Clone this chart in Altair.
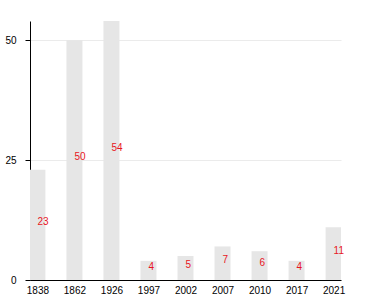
import altair as alt
import pandas as pd

years = ["1838", "1862", "1926", "1997", "2002", "2007", "2010", "2017", "2021"]
values = [23, 50, 54, 4, 5, 7, 6, 4, 11]

df = pd.DataFrame({"year": years, "value": values})
df["half"] = df["value"] / 2

FONT = "Liberation Sans"

x = alt.X("year:N", sort=years, title=None,
          scale=alt.Scale(type="point", padding=0.2),
          axis=alt.Axis(labelAngle=0, ticks=False, tickSize=0, labelPadding=5,
                        domainColor="black", labelColor="black", labelFontSize=10,
                        labelFont=FONT, grid=False))

base = alt.Chart(df)

bars = base.mark_bar(width=16, color="#e6e6e6", clip=True).encode(
    x=x,
    y=alt.Y("value:Q", title=None,
            scale=alt.Scale(domain=[0, 54], nice=False, zero=True),
            axis=alt.Axis(values=[0, 25, 50], tickSize=5, tickColor="black",
                          domainColor="black", labelColor="black", labelFontSize=10,
                          labelFont=FONT, labelPadding=9, gridColor="#ebebeb",
                          grid=True)),
)

labels = base.mark_text(align="left", baseline="alphabetic", color="#e8161e",
                        fontSize=10, font=FONT).encode(
    x=alt.X("year:N", sort=years),
    y=alt.Y("half:Q"),
    text=alt.Text("value:Q"),
)

chart = (bars + labels).properties(
    width=311, height=259,
    autosize=alt.AutoSizeParams(type="none"),
    padding={"left": 30, "top": 21, "right": 39, "bottom": 20},
).configure_view(stroke=None).configure_axis(domainWidth=1)

chart.save("out.html", embed_options={"renderer": "svg", "actions": False})
